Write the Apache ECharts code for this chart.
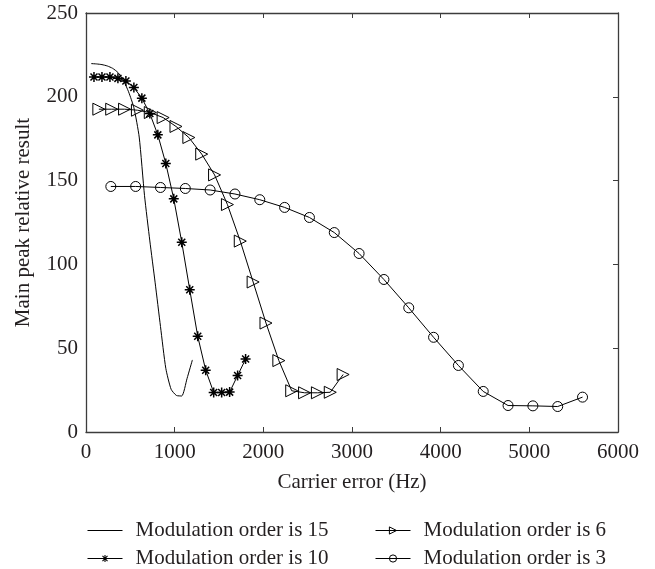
<!DOCTYPE html>
<html>
<head>
<meta charset="utf-8">
<script src="https://cdn.jsdelivr.net/npm/echarts@6/dist/echarts.min.js"></script>
<style>
  html, body { margin: 0; padding: 0; background: #fff; }
  #chart { width: 655px; height: 569px; }
</style>
</head>
<body>
<div id="chart"></div>
<script>
// Carrier error (Hz) sampled for each modulation order
const order15X = [60, 120, 180, 240, 300, 360, 420, 480, 540, 600, 660, 720, 780, 840, 900, 960, 1020, 1080, 1140, 1200];
const order15Y = [219.8, 219.6, 219.2, 218.4, 217.0, 214.5, 210.0, 203.0, 193.5, 176.0, 141.0, 114.0, 89.0, 63.0, 38.0, 25.5, 21.8, 21.5, 32.0, 43.0];

const order10X = [90, 180, 270, 360, 450, 540, 630, 720, 810, 900, 990, 1080, 1170, 1260, 1350, 1440, 1530, 1620, 1710, 1800];
const order10Y = [211.8, 211.8, 211.8, 211.0, 209.4, 205.5, 199.2, 190.0, 177.3, 160.2, 139.1, 113.2, 84.9, 57.1, 36.9, 23.6, 23.6, 23.8, 33.7, 43.5];

const order6X = [145, 290, 435, 580, 725, 870, 1015, 1160, 1305, 1450, 1595, 1740, 1885, 2030, 2175, 2320, 2465, 2610, 2755, 2900];
const order6Y = [192.6, 192.6, 192.6, 192.0, 190.6, 187.6, 182.3, 175.7, 165.8, 153.4, 135.7, 113.9, 89.5, 65.0, 42.6, 24.6, 23.4, 23.4, 23.7, 34.3];

const order3X = [280, 560, 840, 1120, 1400, 1680, 1960, 2240, 2520, 2800, 3080, 3360, 3640, 3920, 4200, 4480, 4760, 5040, 5320, 5600];
const order3Y = [146.5, 146.5, 145.9, 145.3, 144.4, 142.0, 138.6, 134.0, 128.0, 119.0, 106.5, 91.0, 74.1, 56.5, 39.7, 24.2, 15.8, 15.6, 15.2, 20.8];

const seriesNames = ['Modulation order is 15', 'Modulation order is 10', 'Modulation order is 6', 'Modulation order is 3'];
const xTitle = 'Carrier error (Hz)';
const yTitle = 'Main peak relative result';

const FONT = 'Liberation Serif';
const TEXT = '#231f20';
const AXIS = '#3c3c3c';

// eight-spoke asterisk and right-pointing triangle markers
const starPath = 'path://M0 4.25 L10 4.25 L10 5.75 L0 5.75 Z M4.25 0 L5.75 0 L5.75 10 L4.25 10 Z ' +
  'M2.03 0.97 L9.03 7.97 L7.97 9.03 L0.97 2.03 Z M7.97 0.97 L9.03 2.03 L2.03 9.03 L0.97 7.97 Z';
const triPath = 'path://M0 0 L10 5 L0 10 Z';
// plain stroke used as the legend key of the marker-less series
const plainKey = 'path://M0 4.5 L36 4.5 L36 5.5 L0 5.5 Z';

const pairs = (xs, ys) => xs.map((x, i) => [x, ys[i]]);

const lineStyle = { color: '#000', width: 1 };
const hollow = { color: 'rgba(255,255,255,0)', borderColor: '#000', borderWidth: 1 };

const chart = echarts.init(document.getElementById('chart'), null, { renderer: 'canvas' });

function axisLine() {
  return { show: true, onZero: false, lineStyle: { color: AXIS, width: 1.3 } };
}
function innerTicks() {
  return { show: true, inside: true, length: 5, lineStyle: { color: AXIS } };
}
function legendBox(left, names) {
  return {
    orient: 'vertical',
    left: left,
    top: 520,
    padding: 0,
    itemWidth: 35,
    itemHeight: 9,
    itemGap: 7,
    lineStyle: { width: 1 },
    textStyle: { color: TEXT, fontFamily: FONT, fontSize: 21, lineHeight: 21, padding: [0, 0, 0, 8] },
    data: names
  };
}
const plainNum = (v) => String(v);

chart.setOption({
  animation: false,
  backgroundColor: '#fff',
  grid: { left: 86, right: 37, top: 13, bottom: 137, containLabel: false },
  legend: [
    legendBox(87, [
      { name: seriesNames[0], icon: plainKey },
      { name: seriesNames[1] }
    ]),
    legendBox(375, [
      { name: seriesNames[2], itemStyle: hollow },
      { name: seriesNames[3], itemStyle: hollow }
    ])
  ],
  xAxis: [
    {
      type: 'value', position: 'bottom', min: 0, max: 6000, interval: 1000,
      name: xTitle, nameLocation: 'middle', nameGap: 40,
      nameTextStyle: { color: TEXT, fontFamily: FONT, fontSize: 21 },
      axisLine: axisLine(), axisTick: innerTicks(), splitLine: { show: false },
      axisLabel: { color: TEXT, fontFamily: FONT, fontSize: 21, margin: 10, formatter: plainNum }
    },
    {
      type: 'value', position: 'top', min: 0, max: 6000, interval: 1000,
      axisLine: axisLine(), axisTick: innerTicks(), splitLine: { show: false },
      axisLabel: { show: false }
    }
  ],
  yAxis: [
    {
      type: 'value', position: 'left', min: 0, max: 250, interval: 50,
      name: yTitle, nameLocation: 'middle', nameGap: 52, nameRotate: 90,
      nameTextStyle: { color: TEXT, fontFamily: FONT, fontSize: 21 },
      axisLine: axisLine(), axisTick: { show: false }, splitLine: { show: false },
      axisLabel: { color: TEXT, fontFamily: FONT, fontSize: 21, margin: 8, formatter: plainNum }
    },
    {
      type: 'value', position: 'right', min: 0, max: 250, interval: 50,
      axisLine: axisLine(), axisTick: innerTicks(), splitLine: { show: false },
      axisLabel: { show: false }
    }
  ],
  series: [
    {
      name: seriesNames[0], type: 'line', xAxisIndex: 0, yAxisIndex: 0,
      data: pairs(order15X, order15Y), symbol: 'none', smooth: 0.2,
      lineStyle: lineStyle, itemStyle: { color: '#000' }
    },
    {
      name: seriesNames[1], type: 'line', xAxisIndex: 0, yAxisIndex: 0,
      data: pairs(order10X, order10Y), symbol: starPath, symbolSize: 10,
      lineStyle: lineStyle, itemStyle: { color: '#000' }
    },
    {
      name: seriesNames[2], type: 'line', xAxisIndex: 0, yAxisIndex: 0,
      data: pairs(order6X, order6Y), symbol: triPath, symbolSize: 12,
      lineStyle: lineStyle, itemStyle: hollow
    },
    {
      name: seriesNames[3], type: 'line', xAxisIndex: 0, yAxisIndex: 0,
      data: pairs(order3X, order3Y), symbol: 'circle', symbolSize: 10,
      lineStyle: lineStyle, itemStyle: hollow
    }
  ]
});
</script>
</body>
</html>
